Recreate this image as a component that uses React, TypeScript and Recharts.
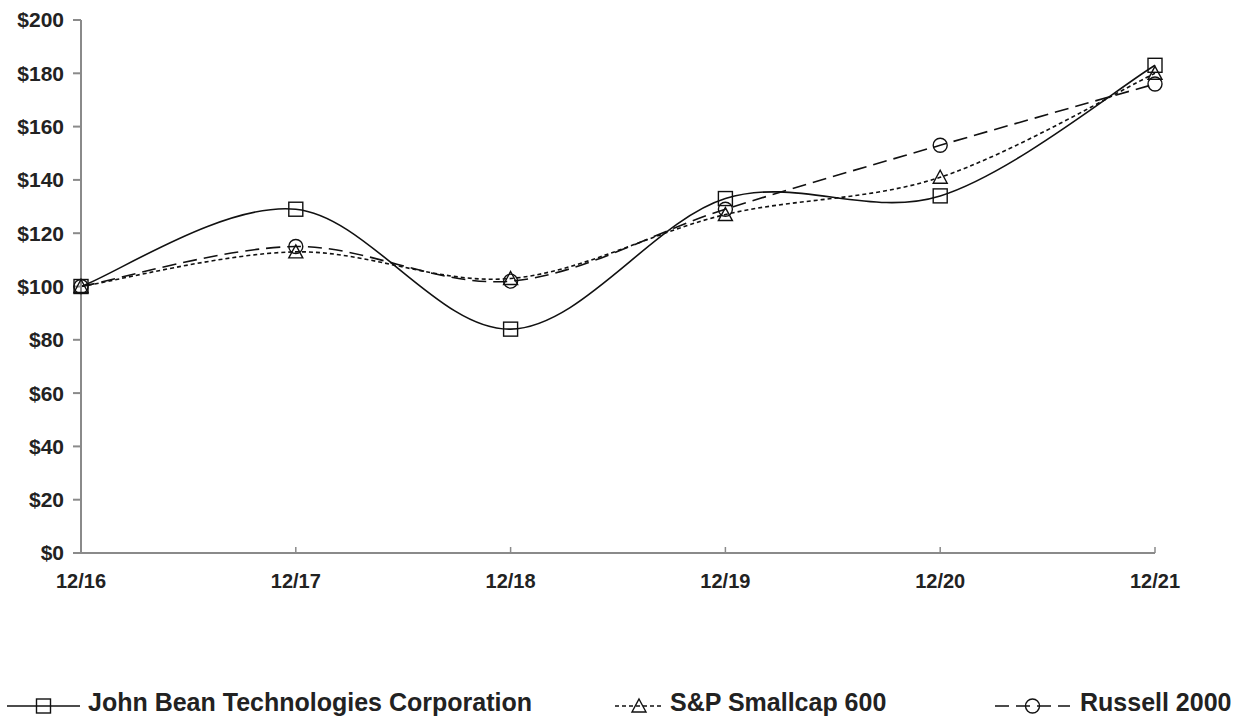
import React from "react"
import { LineChart, Line, XAxis, YAxis, Legend } from "recharts"

const YEARS = ["12/16", "12/17", "12/18", "12/19", "12/20", "12/21"]
const JBT = [100, 129, 84, 133, 134, 183]
const SP600 = [100, 113, 103, 127, 141, 180]
const R2000 = [100, 115, 102, 129, 153, 176]
const Y_TICKS = [0, 20, 40, 60, 80, 100, 120, 140, 160, 180, 200]

const data = YEARS.map((year, i) => ({
  year,
  jbt: JBT[i],
  sp: SP600[i],
  russell: R2000[i],
}))

const INK = "#111"
const TEXT = "#222"
const AXIS = "#8a8a8a"
const FONT = "'Liberation Sans', Arial, sans-serif"

// excel style smoothing (catmull-rom through the points)
const smoothCurve = (context: any) => {
  let pts: number[][] = []
  return {
    areaStart() {},
    areaEnd() {},
    lineStart() {
      pts = []
    },
    point(x: number, y: number) {
      pts.push([+x, +y])
    },
    lineEnd() {
      if (!pts.length) return
      context.moveTo(pts[0][0], pts[0][1])
      for (let i = 0; i < pts.length - 1; i++) {
        const p0 = pts[i - 1] || pts[i]
        const p1 = pts[i]
        const p2 = pts[i + 1]
        const p3 = pts[i + 2] || p2
        context.bezierCurveTo(
          p1[0] + (p2[0] - p0[0]) / 6,
          p1[1] + (p2[1] - p0[1]) / 6,
          p2[0] - (p3[0] - p1[0]) / 6,
          p2[1] - (p3[1] - p1[1]) / 6,
          p2[0],
          p2[1]
        )
      }
    },
  }
}

type Shape = "square" | "triangle" | "circle"

function Marker({ shape, cx, cy }: { shape: Shape; cx: number; cy: number }) {
  const common = { fill: "none", stroke: INK, strokeWidth: 1.4 }
  if (shape === "square") {
    return <rect x={cx - 7} y={cy - 7} width={14} height={14} {...common} />
  }
  if (shape === "triangle") {
    return (
      <polygon
        points={`${cx},${cy - 7} ${cx + 7},${cy + 6} ${cx - 7},${cy + 6}`}
        {...common}
      />
    )
  }
  return <circle cx={cx} cy={cy} r={7} {...common} />
}

const SERIES = [
  { key: "jbt", name: "John Bean Technologies Corporation", dash: undefined, shape: "square" as Shape },
  { key: "sp", name: "S&P Smallcap 600", dash: "4 3", shape: "triangle" as Shape },
  { key: "russell", name: "Russell 2000", dash: "14 7", shape: "circle" as Shape },
]

const LEGEND_POS = [
  { left: 7, sample: 73, text: 88 },
  { left: 615, sample: 48, text: 670 },
  { left: 995, sample: 75, text: 1080 },
]

function renderLegend() {
  return (
    <div style={{ position: "relative", width: 1237, height: 33 }}>
      {SERIES.map((s, i) => {
        const p = LEGEND_POS[i]
        const w = p.sample
        return (
          <div key={s.key}>
            <svg
              width={w}
              height={33}
              style={{ position: "absolute", left: p.left, top: 0 }}
            >
              <line
                x1={0}
                y1={22}
                x2={w}
                y2={22}
                stroke={INK}
                strokeWidth={1.6}
                strokeDasharray={s.dash}
              />
              <Marker shape={s.shape} cx={w / 2} cy={22} />
            </svg>
            <span
              style={{
                position: "absolute",
                left: p.text,
                top: 4,
                fontFamily: FONT,
                fontWeight: 700,
                fontSize: 25,
                color: TEXT,
                whiteSpace: "nowrap",
                lineHeight: "28px",
              }}
            >
              {s.name}
            </span>
          </div>
        )
      })}
    </div>
  )
}

export default function App() {
  return (
    <div style={{ position: "absolute", left: 0, top: 0, background: "#fff" }}>
      <LineChart
        width={1237}
        height={723}
        data={data}
        margin={{ top: 20, right: 82, bottom: 140, left: 0 }}
      >
        <XAxis
          dataKey="year"
          stroke={AXIS}
          strokeWidth={2}
          tickSize={-6}
          tickMargin={27}
          tickLine={{ stroke: AXIS, strokeWidth: 1.5 }}
          tick={{ fill: TEXT, fontSize: 20, fontWeight: 700, fontFamily: FONT }}
        />
        <YAxis
          width={81}
          domain={[0, 200]}
          ticks={Y_TICKS}
          interval={0}
          stroke={AXIS}
          strokeWidth={2}
          tickSize={8}
          tickMargin={9}
          tickFormatter={(v) => `$${v}`}
          tick={{ fill: TEXT, fontSize: 21, fontWeight: 700, fontFamily: FONT }}
        />
        {SERIES.map((s) => (
          <Line
            key={s.key}
            dataKey={s.key}
            name={s.name}
            type={smoothCurve as any}
            stroke={INK}
            strokeWidth={1.6}
            strokeDasharray={s.dash}
            dot={(props: any) => (
              <Marker key={`${s.key}-${props.index}`} shape={s.shape} cx={props.cx} cy={props.cy} />
            )}
            activeDot={false}
            isAnimationActive={false}
          />
        ))}
        <Legend
          verticalAlign="middle"
          align="center"
          content={renderLegend}
          wrapperStyle={{ position: "absolute", left: 0, top: 684, width: 1237, height: 33 }}
        />
      </LineChart>
    </div>
  )
}
